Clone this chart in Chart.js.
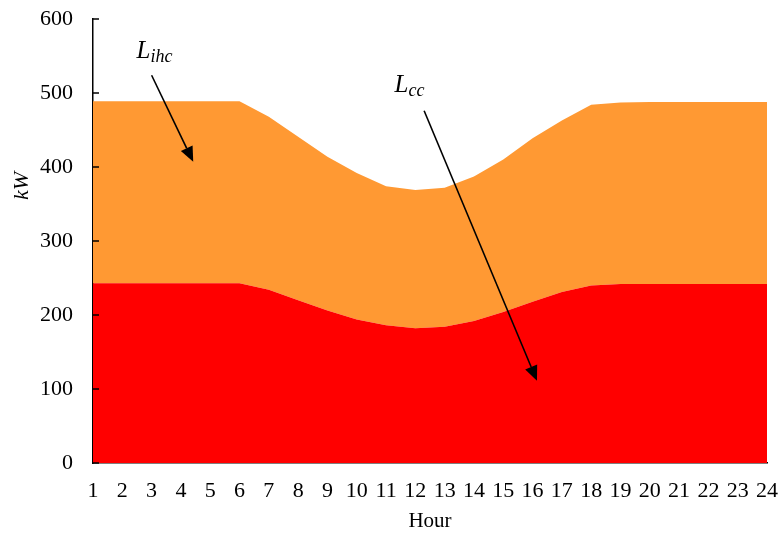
<!DOCTYPE html>
<html><head><meta charset="utf-8">
<script src="https://cdn.jsdelivr.net/npm/chart.js@4/dist/chart.umd.min.js"></script>
<style>html,body{margin:0;padding:0;background:#fff}#wrap{width:780px;height:536px}</style>
</head><body><div id="wrap"><canvas id="c" width="780" height="536"></canvas></div>
<script>
const hours = ['1','2','3','4','5','6','7','8','9','10','11','12','13','14','15','16','17','18','19','20','21','22','23','24'];
const lcc  = [243,243,243,243,243,243,234,220,206,194,186,182,184,192,204,218,231,240,242,242,242,242,242,242];
const lihc = [246,246,246,246,246,246,234,221,208,198,188,187,188,195,206,221,232,244,245,246,246,246,246,246];
const yTicks = [0,100,200,300,400,500,600];
// annotations in data coordinates: [hourIndex, value]
const ihcLabelPos = [2.1, 558];
const ihcArrow = [[2.0, 524],[3.42, 407]];
const ccLabelPos = [10.8, 512];
const ccArrow = [[11.3, 476],[15.15, 111]];

const F = "'Liberation Serif', 'Times New Roman', serif";

function arrow(ctx, x1, y1, x2, y2){
  const a = Math.atan2(y2-y1, x2-x1), L = 15, W = 6.5;
  ctx.beginPath(); ctx.moveTo(x1,y1);
  ctx.lineTo(x2 - L*Math.cos(a), y2 - L*Math.sin(a)); ctx.stroke();
  ctx.beginPath(); ctx.moveTo(x2,y2);
  ctx.lineTo(x2 - L*Math.cos(a) + W*Math.sin(a), y2 - L*Math.sin(a) - W*Math.cos(a));
  ctx.lineTo(x2 - L*Math.cos(a) - W*Math.sin(a), y2 - L*Math.sin(a) + W*Math.cos(a));
  ctx.closePath(); ctx.fill();
}
function subLabel(ctx, x, y, main, sub){
  ctx.font = "italic 25px " + F;
  const w1 = ctx.measureText(main).width;
  ctx.font = "italic 18px " + F;
  const w2 = ctx.measureText(sub).width;
  const x0 = x - (w1+w2)/2;
  ctx.textAlign = 'left'; ctx.textBaseline = 'alphabetic';
  ctx.font = "italic 25px " + F; ctx.fillText(main, x0, y+8);
  ctx.font = "italic 18px " + F; ctx.fillText(sub, x0 + w1, y+12);
}

const deco = {
  id: 'deco',
  afterDraw(chart){
    const ctx = chart.ctx, xs = chart.scales.x, ys = chart.scales.y;
    const ca = chart.chartArea;
    ctx.save();
    ctx.strokeStyle = '#000'; ctx.fillStyle = '#000'; ctx.lineWidth = 1.5;
    // inner y ticks
    yTicks.forEach(v => { const py = ys.getPixelForValue(v);
      ctx.beginPath(); ctx.moveTo(ca.left, py); ctx.lineTo(ca.left+6, py); ctx.stroke(); });
    // y title
    ctx.save(); ctx.translate(22, 186); ctx.rotate(-Math.PI/2);
    ctx.font = "italic 22px " + F; ctx.textAlign='center'; ctx.textBaseline='middle';
    ctx.fillText('kW', 0, 0); ctx.restore();
    const P = p => [xs.getPixelForValue(p[0]), ys.getPixelForValue(p[1])];
    // labels
    let p = P(ihcLabelPos); subLabel(ctx, p[0], p[1], 'L', 'ihc');
    p = P(ccLabelPos); subLabel(ctx, p[0], p[1], 'L', 'cc');
    ctx.lineWidth = 1.6;
    let a = P(ihcArrow[0]), b = P(ihcArrow[1]); arrow(ctx, a[0], a[1], b[0], b[1]);
    a = P(ccArrow[0]); b = P(ccArrow[1]); arrow(ctx, a[0], a[1], b[0], b[1]);
    ctx.restore();
  }
};

new Chart(document.getElementById('c'), {
  type: 'line',
  data: {
    labels: hours,
    datasets: [
      { label: 'Lcc', data: lcc, backgroundColor: '#FF0000', borderWidth: 0, pointRadius: 0, fill: 'origin', tension: 0 },
      { label: 'Lihc', data: lihc, backgroundColor: '#FF9933', borderWidth: 0, pointRadius: 0, fill: '-1', tension: 0 }
    ]
  },
  options: {
    responsive: false, animation: false,
    layout: { padding: { top: 19, right: 13, left: 0, bottom: 0 } },
    plugins: { legend: { display: false }, tooltip: { enabled: false } },
    scales: {
      x: {
        offset: false,
        grid: { display: false, drawTicks: false },
        border: { display: true, color: '#000', width: 1.5 },
        ticks: { color: '#000', font: { family: F, size: 22 }, padding: 15, maxRotation: 0, autoSkip: false },
        title: { display: true, text: 'Hour', color: '#000', font: { family: F, size: 21 }, padding: { top: 0, bottom: 2 } },
        afterFit(s){ s.height = 73; s.paddingLeft = 0; s.paddingRight = 0; }
      },
      y: {
        stacked: true, min: 0, max: 600,
        grid: { display: false, drawTicks: false },
        border: { display: true, color: '#000', width: 1.5 },
        ticks: { stepSize: 100, color: '#000', font: { family: F, size: 22 }, padding: 20 },
        afterFit(s){ s.width = 93; s.paddingTop = 0; s.paddingBottom = 0; }
      }
    }
  },
  plugins: [deco]
});
</script></body></html>
